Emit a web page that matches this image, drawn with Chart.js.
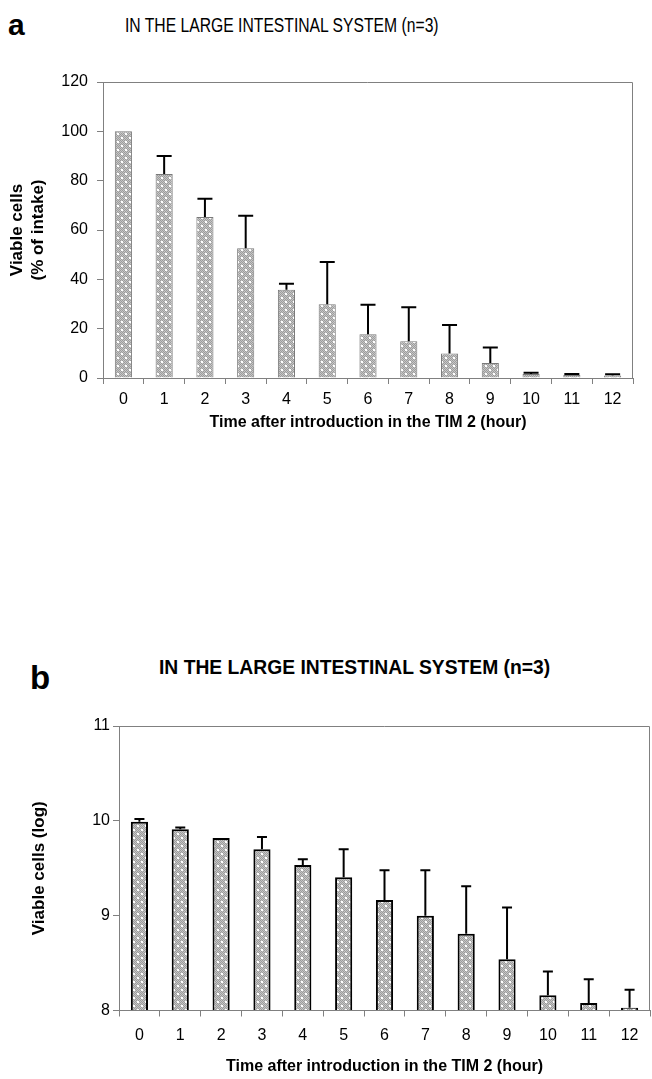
<!DOCTYPE html>
<html><head><meta charset="utf-8">
<script src="https://cdn.jsdelivr.net/npm/chart.js@4.4.1/dist/chart.umd.min.js"></script>
<style>
html,body{margin:0;padding:0;background:#fff;width:652px;height:1079px;overflow:hidden;}
.wrap{position:absolute;left:0;width:652px;}
.lbl{position:absolute;line-height:1;white-space:nowrap;color:#000;}
</style></head><body>
<div class="lbl" style="left:8px;top:7.6px;font:bold 30px 'Liberation Sans',Arial,sans-serif;">a</div>
<div class="lbl" style="left:125px;top:14px;font:19.5px 'Liberation Sans',Arial,sans-serif;transform:scaleX(0.805);transform-origin:0 0;">IN THE LARGE INTESTINAL SYSTEM (n=3)</div>
<div class="lbl" style="left:30px;top:659px;font:bold 33px 'Liberation Sans',Arial,sans-serif;">b</div>
<div class="lbl" style="left:159px;top:657px;font:bold 19.3px 'Liberation Sans',Arial,sans-serif;">IN THE LARGE INTESTINAL SYSTEM (n=3)</div>
<div class="wrap" style="top:0;height:440px;"><canvas id="ca" width="652" height="440" style="width:652px;height:440px"></canvas></div>
<div class="wrap" style="top:600px;height:479px;"><canvas id="cb" width="652" height="479" style="width:652px;height:479px"></canvas></div>
<script>
// ---- data ----
const hours = ['0','1','2','3','4','5','6','7','8','9','10','11','12'];
// panel a: viable cells, % of intake (mean) and top of error bar
const meanA  = [100, 82.7, 65.3, 52.6, 35.8, 29.9, 17.7, 14.9, 9.9, 6.1, 1.6, 1.2, 1.0];
const upperA = [100, 90.0, 72.7, 65.8, 38.2, 47.0, 29.7, 28.7, 21.5, 12.4, 2.1, 1.6, 1.5];
// panel b: viable cells, log (mean) and top of error bar
const meanB  = [9.99, 9.91, 9.82, 9.70, 9.535, 9.405, 9.165, 9.00, 8.81, 8.54, 8.16, 8.08, 8.03];
const upperB = [10.02, 9.93, 9.82, 9.83, 9.595, 9.70, 9.48, 9.48, 9.31, 9.085, 8.41, 8.33, 8.22];
const ticksA = [0, 20, 40, 60, 80, 100, 120];
const ticksB = [8, 9, 10, 11];

const SANS = "'Liberation Sans',Arial,sans-serif";
const AXIS = '#808080';

function makePattern(){
  const c = document.createElement('canvas'); c.width = 8; c.height = 8;
  const g = c.getContext('2d');
  g.fillStyle = '#c6c6c6'; g.fillRect(0,0,8,8);
  g.fillStyle = '#9c9c9c';
  for(let y=0;y<8;y++) for(let x=0;x<8;x++) if((x+y)%2===0) g.fillRect(x,y,1,1);
  g.fillStyle = '#ffffff';
  g.fillRect(1,1,2,2); g.fillRect(5,5,2,2);
  return g.createPattern(c,'repeat');
}

const errPlugin = {
  id: 'err',
  afterDatasetsDraw(chart, args, opts){
    const ctx = chart.ctx, meta = chart.getDatasetMeta(0), ys = chart.scales.y;
    const vals = chart.data.datasets[0].data;
    ctx.save();
    ctx.strokeStyle = '#000'; ctx.lineWidth = opts.lw;
    meta.data.forEach((bar, i) => {
      const u = opts.upper[i];
      if (u == null || u <= vals[i]) return;
      const yT = ys.getPixelForValue(u);
      ctx.beginPath();
      ctx.moveTo(bar.x, bar.y); ctx.lineTo(bar.x, yT);
      ctx.moveTo(bar.x - opts.cap/2, yT); ctx.lineTo(bar.x + opts.cap/2, yT);
      ctx.stroke();
    });
    // frame: top and right sides of plot area
    const a = chart.chartArea;
    ctx.strokeStyle = AXIS; ctx.lineWidth = 1;
    ctx.beginPath();
    ctx.moveTo(a.left, a.top + 0.5); ctx.lineTo(a.right - 0.5, a.top + 0.5); ctx.lineTo(a.right - 0.5, a.bottom);
    ctx.stroke();
    ctx.restore();
  }
};

function makeChart(id, cfg){
  return new Chart(document.getElementById(id), {
    type: 'bar',
    data: { labels: hours, datasets: [{
      data: cfg.mean, base: cfg.base,
      backgroundColor: makePattern(), borderColor: cfg.barBorder, borderWidth: cfg.barBW,
      categoryPercentage: 1.0, barPercentage: 0.42
    }]},
    options: {
      responsive: false, animation: false, devicePixelRatio: 1,
      layout: { padding: { top: cfg.padTop, right: cfg.padRight, left: 0, bottom: 0 } },
      plugins: { legend: {display:false}, tooltip: {enabled:false}, title: {display:false},
        err: { upper: cfg.upper, lw: 2, cap: cfg.cap } },
      scales: {
        x: {
          grid: { display: true, drawOnChartArea: false, drawTicks: true, tickLength: 6, color: AXIS, offset: true },
          border: { color: AXIS, width: 1 },
          ticks: { color: '#000', font: { family: SANS, size: 16 }, padding: cfg.xPad, maxRotation: 0 },
          title: { display: true, text: 'Time after introduction in the TIM 2 (hour)', color: '#000',
                   font: { family: SANS, size: 16, weight: 'bold' }, padding: { top: 0, bottom: cfg.xTitlePad } },
          afterFit(s){ s.height = cfg.xH; }
        },
        y: {
          min: cfg.ticks[0], max: cfg.ticks[cfg.ticks.length-1],
          afterBuildTicks(s){ s.ticks = cfg.ticks.map(v => ({value: v})); },
          grid: { display: true, drawOnChartArea: false, drawTicks: true, tickLength: 6, color: AXIS },
          border: { color: AXIS, width: 1 },
          ticks: { color: '#000', font: { family: SANS, size: 16 }, padding: cfg.yPad },
          title: { display: true, text: cfg.yTitle, color: '#000',
                   font: { family: SANS, size: 17, weight: 'bold', lineHeight: 21/17 }, padding: { top: cfg.yTitlePad, bottom: 0 } },
          afterFit(s){ s.width = cfg.yW; }
        }
      }
    },
    plugins: [errPlugin]
  });
}

makeChart('ca', {
  mean: meanA, upper: upperA, base: 0, ticks: ticksA,
  barBorder: '#7a7a7a', barBW: 1, cap: 15,
  padTop: 82, padRight: 19, xH: 62, yW: 103, xPad: 6, yPad: 9, xTitlePad: 8,
  yTitle: ['Viable cells', '(% of intake)'], yTitlePad: 6.5
});
makeChart('cb', {
  mean: meanB, upper: upperB, base: 8, ticks: ticksB,
  barBorder: '#000', barBW: 2, cap: 10,
  padTop: 126, padRight: 2, xH: 68.5, yW: 119, xPad: 9, yPad: 3, xTitlePad: 3,
  yTitle: 'Viable cells (log)', yTitlePad: 28.8
});
</script>
</body></html>
